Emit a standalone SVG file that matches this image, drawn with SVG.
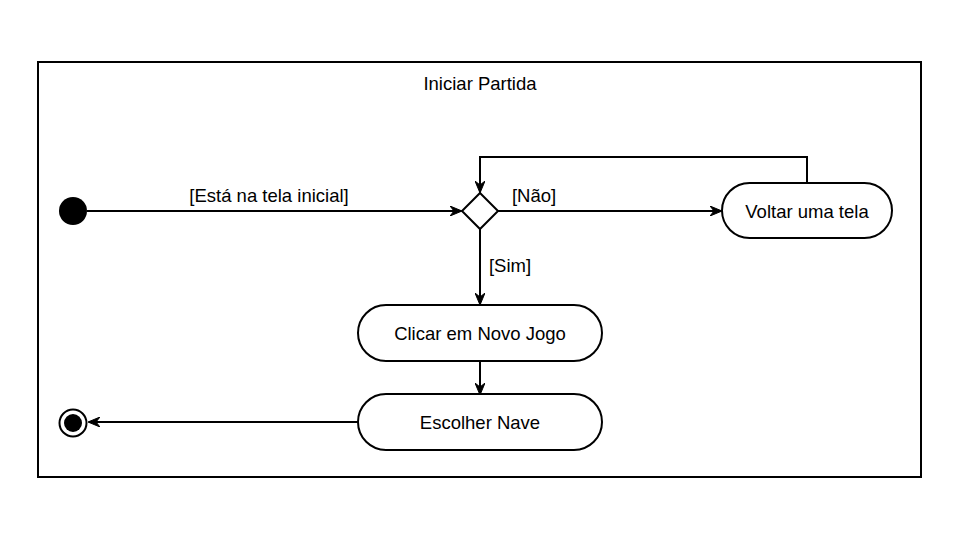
<svg xmlns="http://www.w3.org/2000/svg" width="960" height="540" viewBox="0 0 960 540">
<defs>
<style>
text{font-family:"Liberation Sans",Arial,sans-serif;font-size:18.5px;fill:#000}
.c{text-anchor:middle}
.n{fill:#fff;stroke:#000;stroke-width:2}
.e{fill:none;stroke:#000;stroke-width:2}
</style>
<marker id="a" viewBox="0 0 12 10" refX="11" refY="5" markerWidth="12" markerHeight="10" markerUnits="userSpaceOnUse" orient="auto">
<path d="M0,0 L12,5 L0,10 L4,5 Z" fill="#000" stroke="#000" stroke-width="1" stroke-linejoin="miter"/>
</marker>
</defs>
<rect width="960" height="540" fill="#fff"/>
<g id="frame">
<rect x="38" y="62" width="883" height="415" fill="none" stroke="#000" stroke-width="2"/>
<text x="480" y="90" class="c">Iniciar Partida</text>
</g>
<g id="connectors">
<path class="e" d="M87,211 H461" marker-end="url(#a)"/>
<text x="269" y="202" class="c">[Está na tela inicial]</text>
<path class="e" d="M498,211 H721" marker-end="url(#a)"/>
<text x="534" y="202" class="c">[Não]</text>
<path class="e" d="M807,183 V157 H480 V192" marker-end="url(#a)"/>
<path class="e" d="M480,229 V304" marker-end="url(#a)"/>
<text x="510" y="272" class="c">[Sim]</text>
<path class="e" d="M480,361 V394" marker-end="url(#a)"/>
<path class="e" d="M358,422 H89" marker-end="url(#a)"/>
</g>
<g id="start"><circle cx="73" cy="211" r="14" fill="#000"/></g>
<g id="decision"><path class="n" d="M480,193 L498,211 L480,229 L462,211 Z"/></g>
<g id="voltar">
<rect class="n" x="722" y="183" width="170" height="55" rx="27.5" ry="27.5"/>
<text x="807" y="218" class="c">Voltar uma tela</text>
</g>
<g id="clicar">
<rect class="n" x="358" y="305" width="244" height="56" rx="28" ry="28"/>
<text x="480" y="340" class="c">Clicar em Novo Jogo</text>
</g>
<g id="escolher">
<rect class="n" x="358" y="394" width="244" height="56" rx="28" ry="28"/>
<text x="480" y="429" class="c">Escolher Nave</text>
</g>
<g id="end">
<circle cx="73" cy="423" r="13.5" fill="#fff" stroke="#000" stroke-width="2"/>
<circle cx="73" cy="423" r="9" fill="#000"/>
</g>
</svg>
